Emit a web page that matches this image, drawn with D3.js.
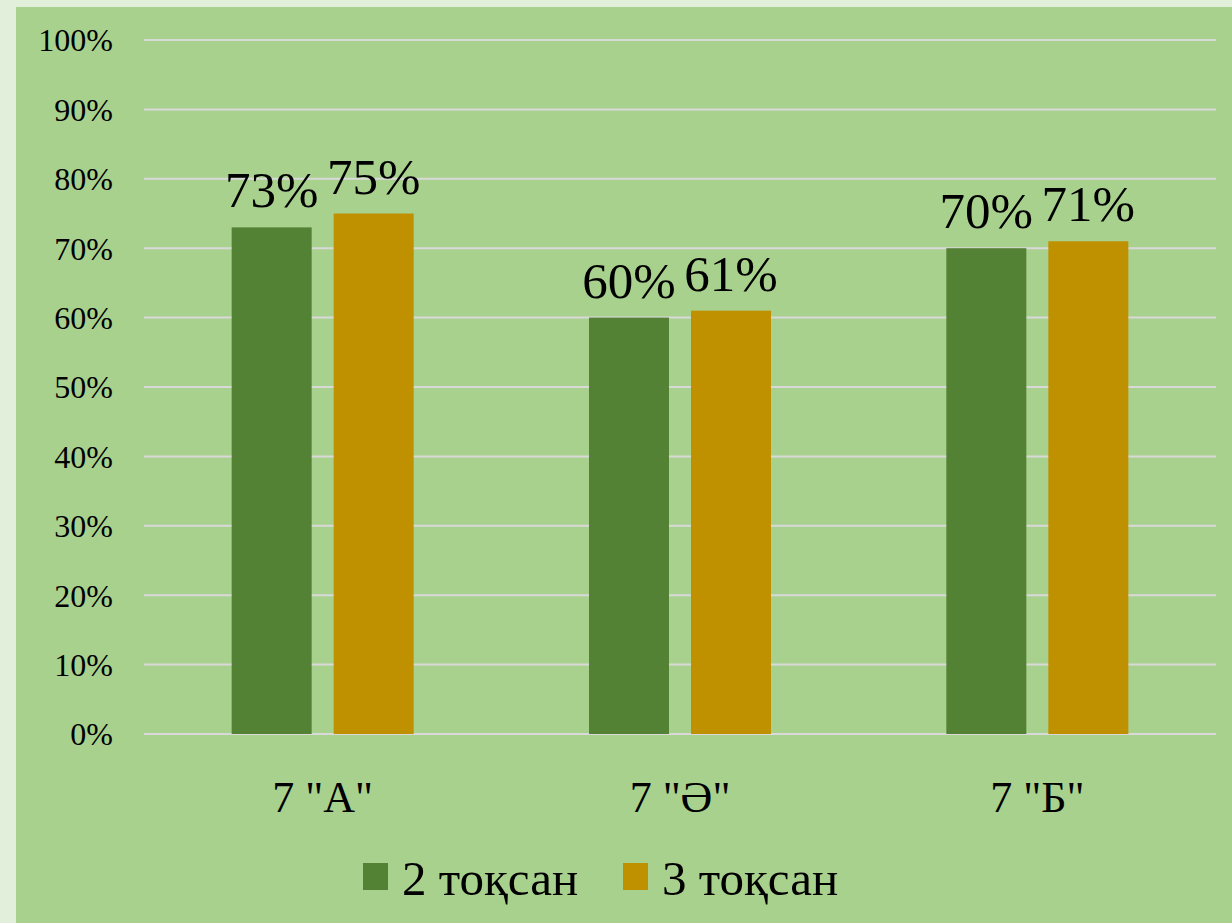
<!DOCTYPE html>
<html><head><meta charset="utf-8">
<script src="https://cdn.jsdelivr.net/npm/d3@7"></script>
<style>html,body{margin:0;padding:0;background:#e2efda;}svg{display:block;}</style>
</head><body>
<svg id="c" width="1232" height="923"></svg>
<script>
const categories = ['7 "А"', '7 "Ә"', '7 "Б"'];
const seriesNames = ["2 тоқсан", "3 тоқсан"];
const series2 = [0.73, 0.60, 0.70];
const series3 = [0.75, 0.61, 0.71];
const yTicks = [0,0.1,0.2,0.3,0.4,0.5,0.6,0.7,0.8,0.9,1.0];
const colors = ["#548235", "#bf9000"];

const svg = d3.select("#c");
const font = "'Liberation Serif', 'DejaVu Serif', serif";
svg.append("rect").attr("x",0).attr("y",0).attr("width",1232).attr("height",923).attr("fill","#e2efda");
svg.append("rect").attr("x",16).attr("y",7).attr("width",1216).attr("height",916).attr("fill","#a9d18e");

const x0 = d3.scaleBand().domain(categories).range([144,1216]);
const y = d3.scaleLinear().domain([0,1]).range([734,40]);
const x1 = d3.scaleBand().domain([0,1]).range([0,182]).paddingInner(22/102);

// grid
const g = svg.append("g");
g.selectAll("line.grid").data(yTicks).join("line")
  .attr("x1",144).attr("x2",1216)
  .attr("y1",d=>y(d)).attr("y2",d=>y(d))
  .attr("stroke","#d9d9d9").attr("stroke-width",2);

// y axis labels
const yAxis = d3.axisLeft(y).tickValues(yTicks).tickFormat(d3.format(".0%")).tickSize(0).tickPadding(0);
const ya = svg.append("g").attr("transform","translate(113,0)").call(yAxis);
ya.select(".domain").remove();
ya.selectAll("text").attr("font-family",font).attr("font-size",32).attr("fill","#000").attr("dy","0.34em");

const data = categories.map((c,i)=>({c, vals:[series2[i],series3[i]]}));
const groups = svg.append("g").selectAll("g").data(data).join("g")
  .attr("transform",d=>`translate(${x0(d.c)+x0.bandwidth()/2-91},0)`);
groups.selectAll("rect").data(d=>d.vals).join("rect")
  .attr("x",(d,i)=>x1(i)).attr("width",x1.bandwidth())
  .attr("y",d=>y(d)).attr("height",d=>y(0)-y(d))
  .attr("fill",(d,i)=>colors[i]);
groups.selectAll("text").data(d=>d.vals).join("text")
  .attr("x",(d,i)=>x1(i)+x1.bandwidth()/2).attr("y",d=>y(d)-20)
  .attr("text-anchor","middle").attr("font-family",font).attr("font-size",51).attr("fill","#000")
  .text(d=>d3.format(".0%")(d));

// x axis labels
const xAxis = d3.axisBottom(x0).tickSize(0).tickPadding(0);
const xa = svg.append("g").attr("transform","translate(0,812)").call(xAxis);
xa.select(".domain").remove();
xa.selectAll("text").attr("font-family",font).attr("font-size",44).attr("fill","#000").attr("dy",0);

// legend
const legendX = [363, 623];
const lg = svg.append("g").selectAll("g").data(seriesNames).join("g")
  .attr("transform",(d,i)=>`translate(${legendX[i]},0)`);
lg.append("rect").attr("x",0).attr("y",863).attr("width",25).attr("height",27).attr("fill",(d,i)=>colors[i]);
lg.append("text").attr("x",39).attr("y",895).attr("font-family",font).attr("font-size",49).attr("fill","#000").text(d=>d);
</script>
</body></html>
